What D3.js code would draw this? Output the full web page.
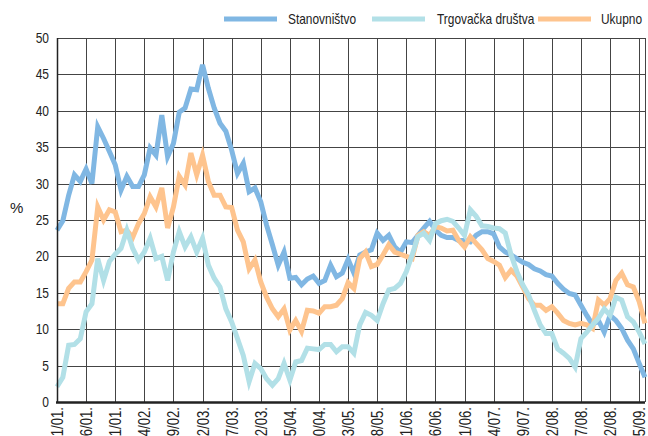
<!DOCTYPE html>
<html>
<head>
<meta charset="utf-8">
<script src="https://cdn.jsdelivr.net/npm/d3@7"></script>
<style>
  body { margin: 0; background: #fff; overflow: hidden; }
  svg { display: block; font-family: "Liberation Sans", Arial, sans-serif; }
  .grid-line { stroke: #444; stroke-width: 1; shape-rendering: crispEdges; }
  .series { fill: none; stroke-width: 5; stroke-linejoin: miter; }
  .tick-text { font-size: 15px; fill: #222; }
  .x-text { font-size: 16px; fill: #222; }
  .legend-text { font-size: 14px; fill: #222; }
</style>
</head>
<body>
<div class="app"></div>
<script>
'use strict'

// mjesečni podaci, 1/01. - 6/09.
var stanovnistvo = [
  23.6, 24.9, 28.4, 31.2, 30.3, 32.0, 30.0, 37.8, 36.2, 34.4, 32.6, 29.1,
  31.0, 29.6, 29.6, 31.2, 34.9, 33.9, 39.4, 33.7, 35.5, 39.8, 40.4, 43.0,
  42.9, 46.3, 43.1, 40.4, 38.3, 37.2, 34.6, 31.4, 32.8, 28.9, 29.4, 27.5,
  24.3, 21.6, 18.8, 20.6, 17.0, 17.1, 16.1, 16.9, 17.3, 16.3, 16.7, 18.8,
  17.2, 17.7, 19.6, 17.7, 20.2, 20.6, 20.9, 23.2, 22.2, 22.9, 21.3, 20.6,
  22.0, 21.9, 22.9, 23.9, 24.8, 23.6, 22.9, 22.6, 22.6, 22.2, 22.2, 22.0,
  22.9, 23.4, 23.4, 23.1, 21.3, 20.6, 20.2, 19.7, 19.2, 18.9, 18.3, 18.0,
  17.5, 17.3, 16.3, 15.5, 14.9, 14.7, 13.3, 11.9, 10.6, 11.2, 9.6, 11.9,
  11.2, 10.1, 8.5, 7.3, 5.3, 3.4
];

var trgovackaDrustva = [
  2.1, 3.4, 7.8, 7.9, 8.7, 12.4, 13.5, 19.7, 16.7, 19.3, 20.3, 21.1,
  23.6, 21.1, 19.5, 20.6, 22.5, 19.7, 20.0, 16.7, 20.6, 23.4, 21.3, 22.7,
  20.6, 22.5, 18.8, 17.0, 15.8, 12.8, 11.0, 8.7, 6.4, 2.8, 5.3, 4.6,
  3.2, 2.3, 3.2, 5.3, 3.0, 5.5, 5.7, 7.4, 7.3, 7.2, 7.9, 7.9,
  6.9, 7.6, 7.6, 6.7, 10.6, 12.3, 11.9, 11.2, 13.5, 15.4, 15.6, 16.3,
  17.9, 20.2, 22.7, 23.2, 22.2, 24.5, 24.9, 25.1, 24.8, 23.9, 22.9, 26.4,
  25.5, 24.2, 24.1, 23.9, 23.8, 23.2, 20.2, 17.9, 16.1, 14.7, 12.6, 10.6,
  9.4, 9.4, 7.3, 6.7, 6.0, 4.8, 8.7, 9.6, 10.6, 11.5, 12.8, 11.9,
  14.4, 14.0, 11.7, 11.0, 9.6, 8.0
];

var ukupno = [
  13.5, 13.5, 15.6, 16.5, 16.5, 17.9, 19.5, 26.8, 25.0, 26.4, 26.1, 23.4,
  23.6, 22.6, 24.5, 25.9, 28.2, 26.8, 29.4, 23.9, 26.8, 31.0, 29.8, 34.2,
  31.2, 33.9, 30.3, 28.4, 28.4, 26.8, 26.7, 23.6, 22.0, 18.3, 19.5, 16.5,
  14.4, 12.8, 11.7, 12.8, 9.9, 11.2, 9.7, 12.6, 12.5, 12.2, 13.1, 13.1,
  13.3, 14.2, 16.4, 15.6, 19.7, 20.6, 18.6, 18.9, 20.2, 21.6, 20.6, 20.3,
  20.0, 19.7, 22.9, 23.4, 22.9, 24.1, 23.9, 23.5, 23.6, 22.2, 21.3, 22.7,
  21.8, 20.9, 19.7, 19.3, 18.8, 17.1, 18.1, 17.3, 15.8, 14.2, 13.3, 13.3,
  12.6, 13.1, 12.2, 11.2, 10.8, 10.6, 10.8, 10.6, 10.1, 14.0, 13.3, 14.2,
  16.7, 17.7, 16.1, 15.8, 13.8, 10.8
];

// oznake na osi X (svakih 5 mjeseci)
var xTickLabels = ["1/01.", "6/01.", "11/01.", "4/02.", "9/02.", "2/03.", "7/03.",
  "12/03.", "5/04.", "10/04.", "3/05.", "8/05.", "1/06.", "6/06.", "11/06.",
  "4/07.", "9/07.", "2/08.", "7/08.", "12/08.", "5/09."];
var yTicks = [0, 5, 10, 15, 20, 25, 30, 35, 40, 45, 50];

var seriesNames = ["Stanovništvo", "Trgovačka društva", "Ukupno"];
var seriesColors = ["#80b7e3", "#b2e0e7", "#fec48e"];

var months = d3.range(stanovnistvo.length);

var margin = { top: 38, right: 3, bottom: 34, left: 57 };
var width = 648 - margin.left - margin.right;
var height = 436 - margin.top - margin.bottom;

// uski font - sužavamo tekst po širini
var narrow = 0.8;

var xScale = d3.scaleLinear().domain([0, months.length - 1]).range([0, width]);
var yScale = d3.scaleLinear().domain([0, 50]).range([height, 0]);

var svg = d3.select(".app")
  .append("svg")
  .attr("width", 648)
  .attr("height", 436);

var container = svg.append("g")
  .attr("transform", "translate(" + margin.left + "," + margin.top + ")");

// mreža
var xTickIdx = xTickLabels.map(function(d, i) { return i * 5; });

container.selectAll(".h-grid")
  .data(yTicks)
  .enter().append("line")
  .attr("class", "grid-line")
  .attr("x1", 0)
  .attr("x2", width)
  .attr("y1", function(d) { return Math.round(yScale(d)) + 0.5; })
  .attr("y2", function(d) { return Math.round(yScale(d)) + 0.5; });

container.selectAll(".v-grid")
  .data(xTickIdx.concat([months.length - 1]))
  .enter().append("line")
  .attr("class", "grid-line")
  .attr("x1", function(d) { return Math.round(xScale(d)) + 0.5; })
  .attr("x2", function(d) { return Math.round(xScale(d)) + 0.5; })
  .attr("y1", 0)
  .attr("y2", height);

// linije
var line = d3.line()
  .x(function(d, i) { return xScale(i); })
  .y(function(d) { return yScale(d); });

var allSeries = [stanovnistvo, ukupno, trgovackaDrustva];
var allColors = [seriesColors[0], seriesColors[2], seriesColors[1]];

container.selectAll(".series")
  .data(allSeries)
  .enter().append("path")
  .attr("class", "series")
  .attr("stroke", function(d, i) { return allColors[i]; })
  .attr("d", line);

// osi
container.append("line")
  .attr("x1", -1).attr("x2", width)
  .attr("y1", height + 0.5).attr("y2", height + 0.5)
  .attr("stroke", "#222").attr("stroke-width", 2.5);

container.append("line")
  .attr("x1", 0.5).attr("x2", 0.5)
  .attr("y1", 0).attr("y2", height + 1)
  .attr("stroke", "#222").attr("stroke-width", 1.5);

// oznake osi Y
container.selectAll(".y-label")
  .data(yTicks)
  .enter().append("g")
  .attr("transform", function(d) { return "translate(-8," + (yScale(d) + 5) + ")"; })
  .append("text")
  .attr("class", "tick-text")
  .attr("text-anchor", "end")
  .attr("transform", "scale(" + narrow + ",1)")
  .text(function(d) { return d; });

// oznake osi X (okomito)
container.selectAll(".x-label")
  .data(xTickLabels)
  .enter().append("text")
  .attr("class", "x-text")
  .attr("text-anchor", "end")
  .attr("transform", function(d, i) {
    return "translate(" + (xScale(xTickIdx[i]) + 6) + "," + (height + 5) + ") rotate(-90) scale(0.82,1)";
  })
  .text(function(d) { return d; });

svg.append("text")
  .attr("class", "tick-text")
  .attr("x", 10)
  .attr("y", 213)
  .text("%");

// legenda
var legendX = [224, 372, 538];
var legendTextX = [288, 437, 601];

var legend = svg.append("g").attr("class", "legend");
legend.selectAll("line")
  .data(seriesNames)
  .enter().append("line")
  .attr("x1", function(d, i) { return legendX[i]; })
  .attr("x2", function(d, i) { return legendX[i] + 53; })
  .attr("y1", 19)
  .attr("y2", 19)
  .attr("stroke", function(d, i) { return seriesColors[i]; })
  .attr("stroke-width", 5);

legend.selectAll("g")
  .data(seriesNames)
  .enter().append("g")
  .attr("transform", function(d, i) { return "translate(" + legendTextX[i] + ",24)"; })
  .append("text")
  .attr("class", "legend-text")
  .attr("transform", "scale(0.85,1)")
  .text(function(d) { return d; });
</script>
</body>
</html>
